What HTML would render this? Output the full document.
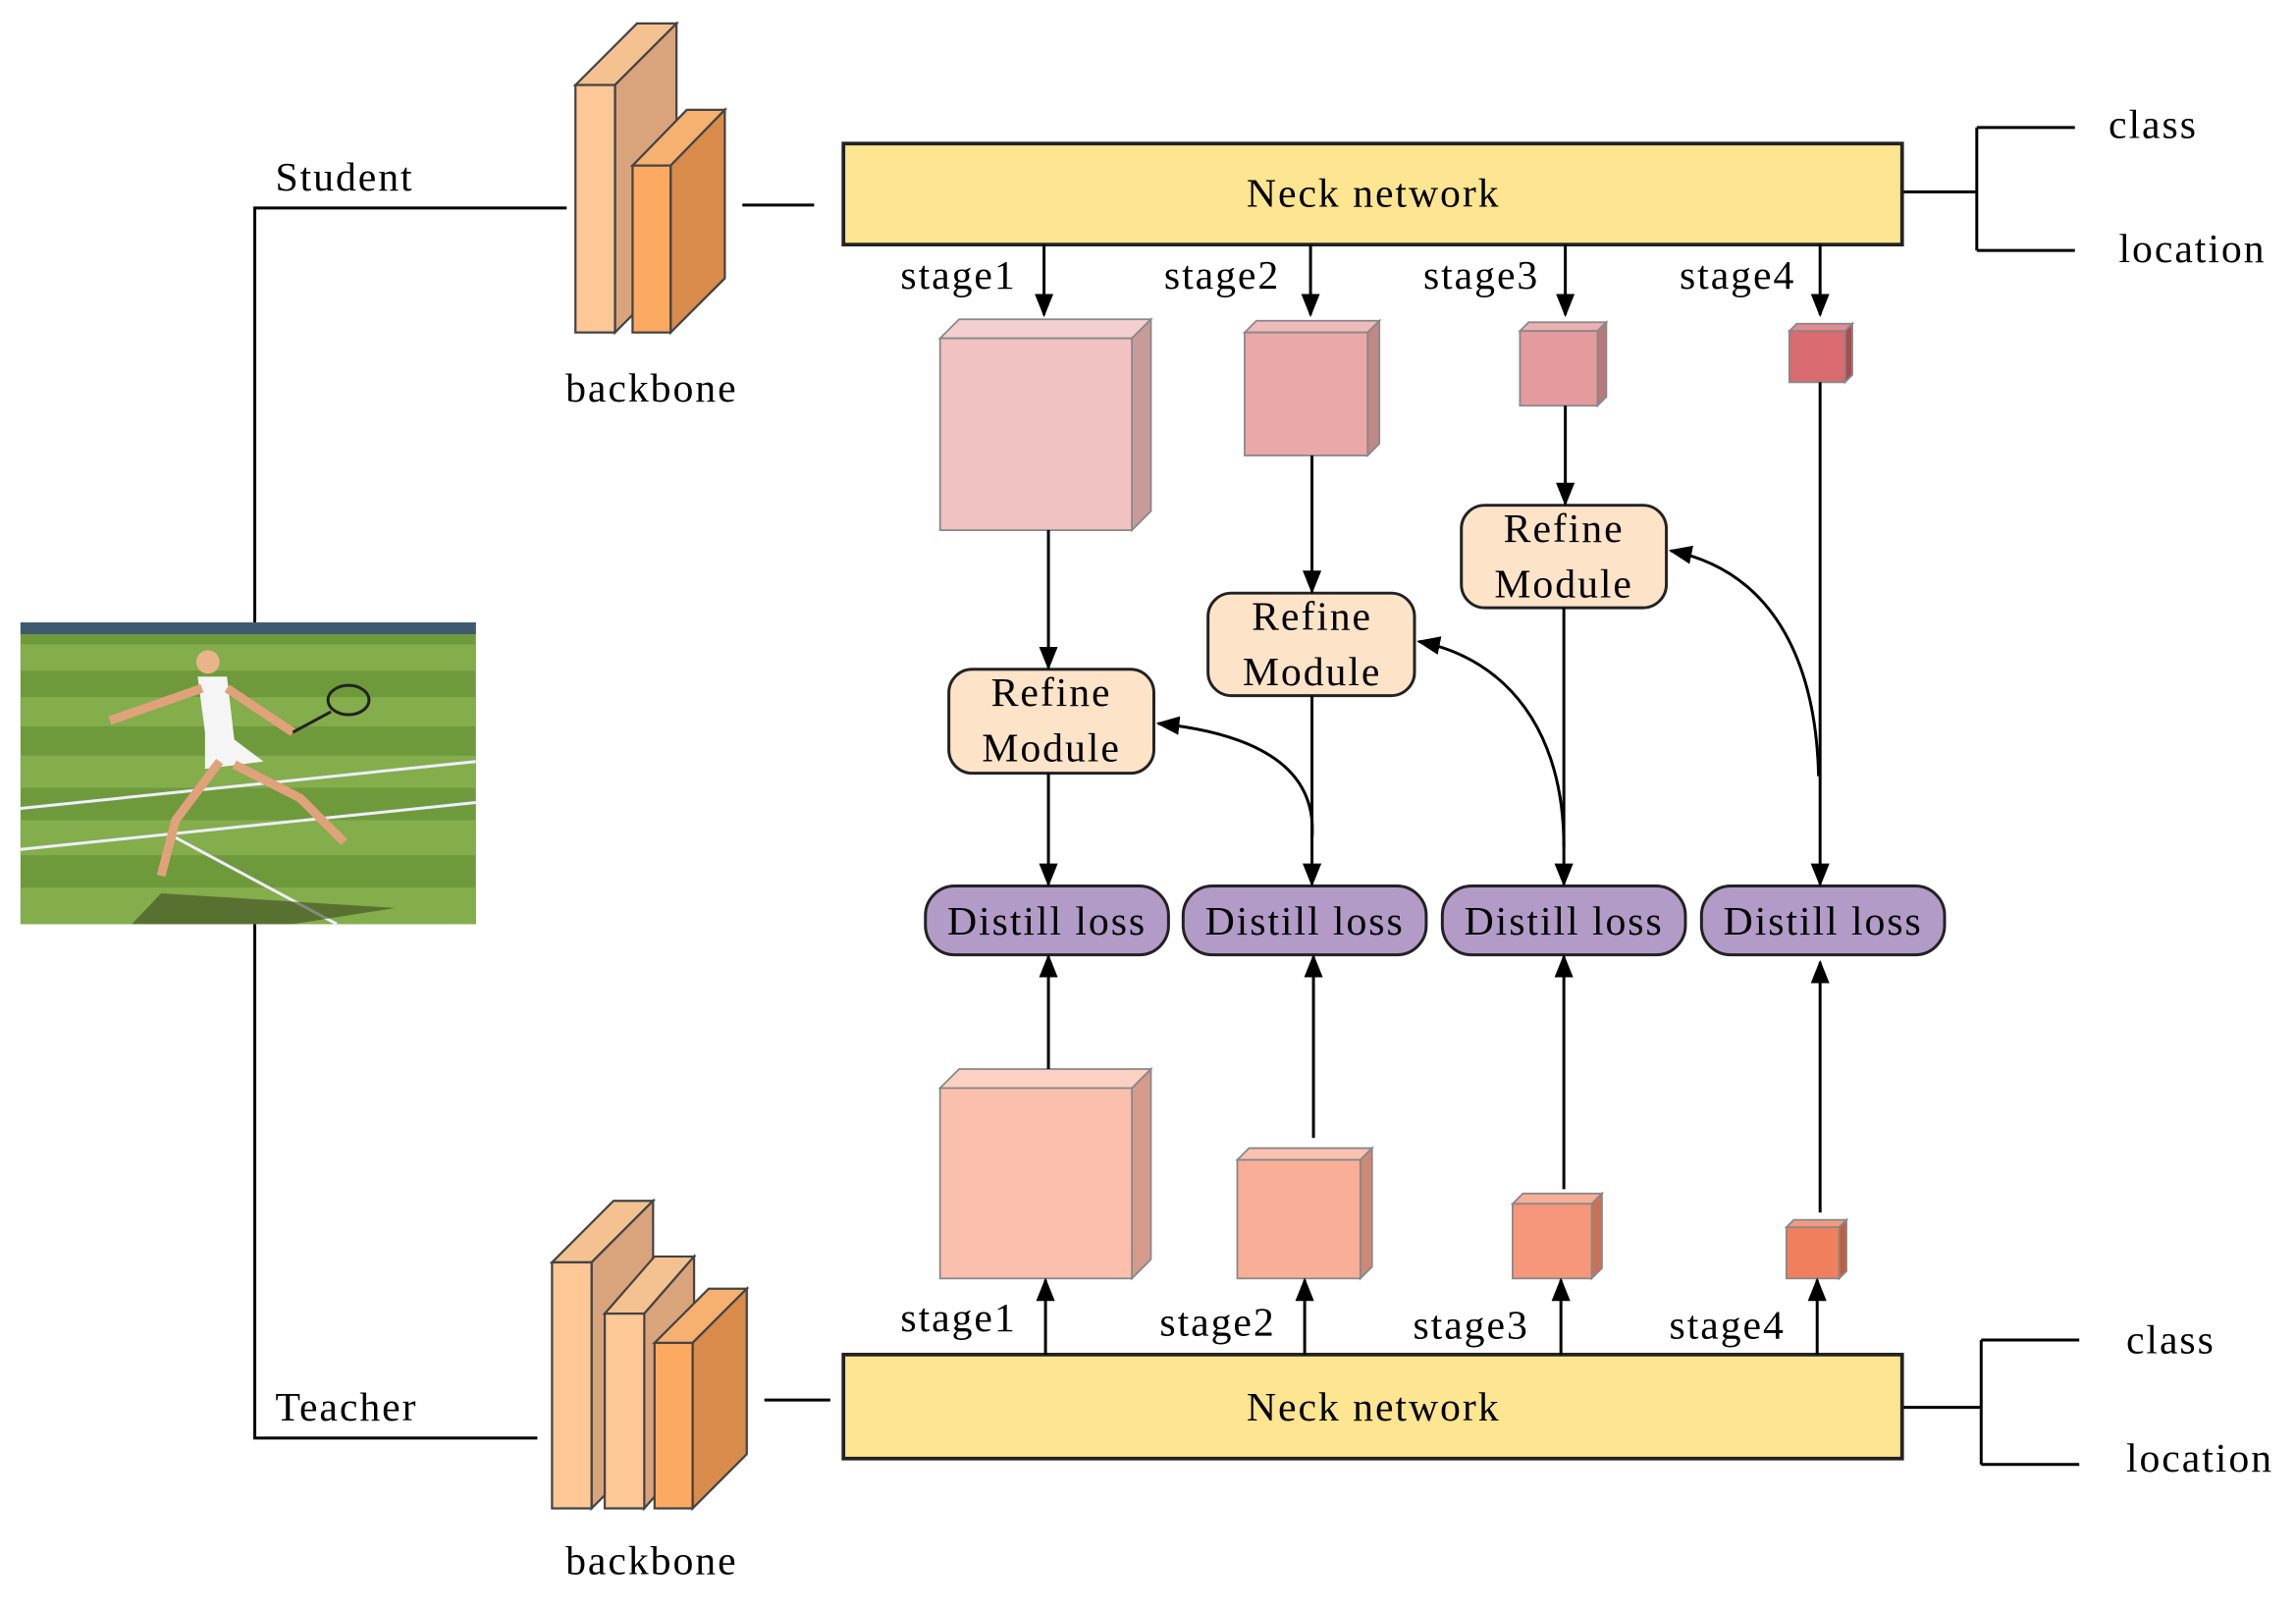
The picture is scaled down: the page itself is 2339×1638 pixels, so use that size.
<!DOCTYPE html>
<html><head><meta charset="utf-8"><style>html,body{margin:0;padding:0;background:#fff}svg{display:block}</style></head><body>
<svg width="2339" height="1638" viewBox="0 0 1568 1098" xmlns="http://www.w3.org/2000/svg" font-family="'Liberation Serif',serif" font-size="28" letter-spacing="1.3">
<defs>
<marker id="b" viewBox="0 0 10 10" refX="9" refY="5" markerWidth="16" markerHeight="16" orient="auto" markerUnits="userSpaceOnUse"><path d="M0,1 L10,5 L0,9 z" fill="#000"/></marker>
</defs>
<g stroke="#000" stroke-width="2" fill="none">
<path d="M387,142 H174 V425 M174,631 V982 H367"/>
<path d="M507,140 H556 M522,956 H567"/>
<path d="M1299,131 H1350 M1350,87 V171 M1350,87 H1417 M1350,171 H1417"/>
<path d="M1299,961 H1353 M1353,915 V1000 M1353,915 H1420 M1353,1000 H1420"/>
</g>
<text x="188" y="130">Student</text>
<text x="188" y="970">Teacher</text>
<text x="445" y="274" text-anchor="middle">backbone</text>
<text x="445" y="1075" text-anchor="middle">backbone</text>
<text x="1440" y="94">class</text><text x="1447" y="179">location</text>
<text x="1452" y="924">class</text><text x="1452" y="1005">location</text>
<g>
<rect x="14" y="425" width="311" height="206" fill="#6f9a3c"/>
<g fill="#84ad4c"><rect x="14" y="440" width="311" height="18"/><rect x="14" y="476" width="311" height="20"/><rect x="14" y="516" width="311" height="22"/><rect x="14" y="560" width="311" height="24"/><rect x="14" y="606" width="311" height="25"/></g>
<rect x="14" y="425" width="311" height="8" fill="#3f5a70"/>
<path d="M14,552 L325,520 M14,580 L325,548 M120,572 L230,631" stroke="#eef" stroke-width="2"/>
<path d="M110,610 L270,620 L200,631 L90,631 z" fill="#3b4a20" opacity=".6"/>
<circle cx="142" cy="452" r="8" fill="#e8b48a"/>
<path d="M135,462 L155,462 L160,505 L180,520 L140,525 L140,500 z" fill="#f5f5f5"/>
<path d="M138,470 L75,492 M155,470 L200,500 M150,520 L120,560 L110,598 M160,522 L205,545 L235,575" stroke="#e0a27a" stroke-width="6" fill="none"/>
<ellipse cx="238" cy="478" rx="14" ry="10" fill="none" stroke="#222" stroke-width="2"/>
<path d="M200,500 L226,486" stroke="#222" stroke-width="2"/>
</g>
<g stroke="#444" stroke-width="1.5">
<polygon points="393,58 420,58 462,16 435,16" fill="#f3c290"/><polygon points="420,58 462,16 462,185 420,227" fill="#d9a47c"/><rect x="393" y="58" width="27" height="169" fill="#fdc896"/>
<polygon points="432,113 458,113 495,75 469,75" fill="#f6b070"/><polygon points="458,113 495,75 495,190 458,227" fill="#d98b4c"/><rect x="432" y="113" width="26" height="114" fill="#fcaa62"/>
<polygon points="377,862 404,862 446,820 419,820" fill="#f3c290"/><polygon points="404,862 446,820 446,988 404,1030" fill="#d9a47c"/><rect x="377" y="862" width="27" height="168" fill="#fdc896"/>
<polygon points="413,897 440,897 474,858 447,858" fill="#f3c290"/><polygon points="440,897 474,858 474,991 440,1030" fill="#d9a47c"/><rect x="413" y="897" width="27" height="133" fill="#fdc896"/>
<polygon points="447,917 473,917 510,880 484,880" fill="#f6b070"/><polygon points="473,917 510,880 510,993 473,1030" fill="#d98b4c"/><rect x="447" y="917" width="26" height="113" fill="#fcaa62"/>
</g>
<rect x="576" y="98" width="723" height="69" fill="#fde591" stroke="#222" stroke-width="2.5"/>
<text x="938" y="141" text-anchor="middle">Neck network</text>
<rect x="576" y="925" width="723" height="71" fill="#fde591" stroke="#222" stroke-width="2.5"/>
<text x="938" y="970" text-anchor="middle">Neck network</text>
<text x="615" y="197">stage1</text><text x="795" y="197">stage2</text><text x="972" y="197">stage3</text><text x="1147" y="197">stage4</text>
<text x="615" y="909">stage1</text><text x="792" y="912">stage2</text><text x="965" y="914">stage3</text><text x="1140" y="914">stage4</text>
<g stroke="#888" stroke-width="1.2">
<polygon points="642,231 655,218 786,218 773,231" fill="#f4cfcf"/><polygon points="773,231 786,218 786,349 773,362" fill="#c99a9a"/><rect x="642" y="231" width="131" height="131" fill="#f2c1c1"/>
<polygon points="850,227 858,219 942,219 934,227" fill="#efbaba"/><polygon points="934,227 942,219 942,303 934,311" fill="#c08888"/><rect x="850" y="227" width="84" height="84" fill="#eaa8a8"/>
<polygon points="1038,226 1044,220 1097,220 1091,226" fill="#ecb0b2"/><polygon points="1091,226 1097,220 1097,271 1091,277" fill="#b9797c"/><rect x="1038" y="226" width="53" height="51" fill="#e59a9d"/>
<polygon points="1222,226 1227,221 1265,221 1260,226" fill="#e48a8e"/><polygon points="1260,226 1265,221 1265,256 1260,261" fill="#a84c50"/><rect x="1222" y="226" width="38" height="35" fill="#d96a6f"/>
<polygon points="642,743 655,730 786,730 773,743" fill="#fcd0c2"/><polygon points="773,743 786,730 786,860 773,873" fill="#d49a8a"/><rect x="642" y="743" width="131" height="130" fill="#fbbfad"/>
<polygon points="845,792 853,784 937,784 929,792" fill="#fbc2b0"/><polygon points="929,792 937,784 937,865 929,873" fill="#cc8a76"/><rect x="845" y="792" width="84" height="81" fill="#f9ae98"/>
<polygon points="1033,822 1040,815 1094,815 1087,822" fill="#f8ae97"/><polygon points="1087,822 1094,815 1094,866 1087,873" fill="#c8725a"/><rect x="1033" y="822" width="54" height="51" fill="#f6967a"/>
<polygon points="1220,838 1225,833 1261,833 1256,838" fill="#f49a80"/><polygon points="1256,838 1261,833 1261,868 1256,873" fill="#c05e42"/><rect x="1220" y="838" width="36" height="35" fill="#f07f5e"/>
</g>
<g stroke="#222" stroke-width="2" fill="#fde3c8">
<rect x="648" y="457" width="140" height="71" rx="16"/>
<rect x="825" y="405" width="141" height="70" rx="16"/>
<rect x="998" y="345" width="140" height="70" rx="16"/>
</g>
<g text-anchor="middle"><text x="718" y="482">Refine</text><text x="718" y="520">Module</text>
<text x="896" y="430">Refine</text><text x="896" y="468">Module</text>
<text x="1068" y="370">Refine</text><text x="1068" y="408">Module</text></g>
<g stroke="#222" stroke-width="2" fill="#b39bc8">
<rect x="632" y="605" width="166" height="47" rx="20"/><rect x="808" y="605" width="166" height="47" rx="20"/><rect x="985" y="605" width="166" height="47" rx="20"/><rect x="1162" y="605" width="166" height="47" rx="20"/>
</g>
<g text-anchor="middle"><text x="715" y="638">Distill loss</text><text x="891" y="638">Distill loss</text><text x="1068" y="638">Distill loss</text><text x="1245" y="638">Distill loss</text></g>
<g stroke="#000" stroke-width="2" fill="none" marker-end="url(#b)">
<path d="M713,167 V215"/><path d="M895,167 V215"/><path d="M1069,167 V215"/><path d="M1243,167 V215"/>
<path d="M716,362 V456"/><path d="M716,528 V604"/>
<path d="M896,311 V404"/><path d="M896,475 V604"/>
<path d="M1069,277 V344"/><path d="M1068,415 V604"/>
<path d="M1243,261 V604"/>
<path d="M896,572 C900,520 850,500 791,494"/>
<path d="M1068,578 C1068,500 1030,450 969,438"/>
<path d="M1242,530 C1240,450 1210,390 1141,376"/>
<path d="M716,730 V653"/><path d="M897,777 V653"/><path d="M1068,812 V653"/><path d="M1243,828 V657"/>
<path d="M714,925 V874"/><path d="M891,925 V874"/><path d="M1066,925 V874"/><path d="M1241,925 V874"/>
</g>
</svg>
</body></html>
